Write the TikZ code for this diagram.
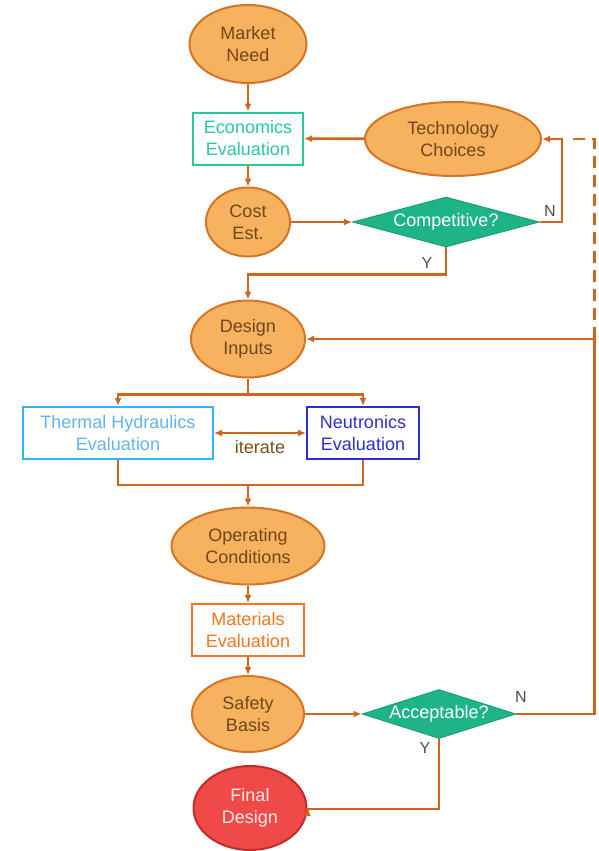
\documentclass[tikz,border=0pt]{standalone}
\usepackage{fontspec}
\setmainfont{Liberation Sans}
\usepackage{xcolor}
\usetikzlibrary{shapes.geometric,arrows.meta}
\definecolor{ovfill}{RGB}{246,178,94}
\definecolor{ovdraw}{RGB}{214,116,38}
\definecolor{ovtext}{RGB}{112,70,28}
\definecolor{wire}{RGB}{206,102,32}
\definecolor{econc}{RGB}{40,200,158}
\definecolor{decc}{RGB}{30,180,134}
\definecolor{thdraw}{RGB}{40,184,242}
\definecolor{thtext}{RGB}{100,180,236}
\definecolor{neuc}{RGB}{46,46,206}
\definecolor{matc}{RGB}{246,118,30}
\definecolor{finfill}{RGB}{240,74,72}
\definecolor{findraw}{RGB}{196,44,44}

\begin{document}
\begin{tikzpicture}[x=1pt, y=-1pt,
  font=\fontsize{18}{22}\selectfont,
  oval/.style={ellipse, draw=ovdraw, line width=2pt, fill=ovfill, text=ovtext, align=center, inner sep=0pt},
  evalbox/.style={rectangle, draw=#1, line width=2pt, fill=white, align=center, inner sep=0pt, minimum height=52pt},
  decide/.style={diamond, aspect=3, draw=decc!85!black, line width=0.8pt, fill=decc, text=white, inner sep=0pt},
  flow/.style={draw=wire, line width=2.6pt, -{Latex[length=8pt,width=7pt]}},
  wireline/.style={draw=wire, line width=2.6pt},
  backline/.style={draw=wire, line width=2.6pt, dash pattern=on 12pt off 7pt},
  yn/.style={text=black!70, font=\fontsize{16}{18}\selectfont, inner sep=0pt}]
  \useasboundingbox (0,0) rectangle (599,851);
  % top part
  \node[oval, minimum width=117pt, minimum height=78pt] (need) at (248,44) {Market\\Need};
  \node[evalbox=econc, text=econc, minimum width=110pt] (econ) at (248,138.5) {Economics\\Evaluation};
  \node[oval, minimum width=176pt, minimum height=74pt] (tech) at (453,139) {Technology\\Choices};
  \node[oval, minimum width=84pt, minimum height=69pt] (cost) at (248,222) {Cost\\Est.};
  \node[decide, minimum width=187pt, minimum height=50pt] (comp) at (446,222) {\makebox[60pt]{Competitive?}};
  \node[yn] (compN) at (550,211) {N};
  \node[yn] (compY) at (427,263) {Y};
  % middle part
  \node[oval, minimum width=114pt, minimum height=77pt] (design) at (248,339) {Design\\Inputs};
  \node[evalbox=thdraw, text=thtext, minimum width=190pt] (th) at (118,433) {Thermal Hydraulics\\Evaluation};
  \node[evalbox=neuc, text=neuc, minimum width=112pt] (neut) at (363,433) {Neutronics\\Evaluation};
  \node[oval, minimum width=153pt, minimum height=77pt] (oper) at (248,546) {Operating\\Conditions};
  \node[evalbox=matc, text=matc, minimum width=112pt] (mat) at (248,630) {Materials\\Evaluation};
  % bottom part
  \node[oval, minimum width=112pt, minimum height=76pt] (safety) at (248,714) {Safety\\Basis};
  \node[decide, minimum width=154pt, minimum height=49pt] (accept) at (439,714) {\makebox[60pt]{Acceptable?}};
  \node[yn] (accN) at (521,697) {N};
  \node[yn] (accY) at (425,748) {Y};
  \node[ellipse, draw=findraw, line width=2pt, fill=finfill, text=red!8, align=center, inner sep=0pt,
        minimum width=113pt, minimum height=84pt] (final) at (250,808) {Final\\Design};
  % connectors
  \draw[flow] (need) -- (econ);
  \draw[flow] (tech) -- (econ);
  \draw[flow] (econ) -- (cost);
  \draw[flow] (cost) -- (comp);
  \draw[flow] (comp.east) -- ++(22,0) |- (tech.east);
  \draw[flow] (comp.south) -- ++(0,27) -| (design.north);
  \draw[wireline] (design.south) -- ++(0,16) coordinate (split);
  \draw[flow] (split) -| (th.north);
  \draw[flow] (split) -| (neut.north);
  \draw[{Latex[length=8pt,width=7pt]}-{Latex[length=8pt,width=7pt]}, draw=wire, line width=2.6pt]
    (th) -- node[below=3pt, text=ovtext!90!orange] (iter) {iterate} (neut);
  \draw[wireline] (th.south) -- ++(0,25) coordinate (merge) -| (neut.south);
  \draw[flow] (merge -| oper.north) -- (oper.north);
  \draw[flow] (oper) -- (mat);
  \draw[flow] (mat) -- (safety);
  \draw[flow] (safety) -- (accept);
  \draw[wireline] (accept.east) -- ++(78,0) coordinate (loop) -- (loop |- design.east) coordinate (join);
  \draw[flow] (join) -- (design.east);
  \draw[backline] (join) -- (join |- tech.east) -- ++(-27,0);
  \draw[flow] (accept.south) -- ++(0,70) -| (final.east);
\end{tikzpicture}
\end{document}
